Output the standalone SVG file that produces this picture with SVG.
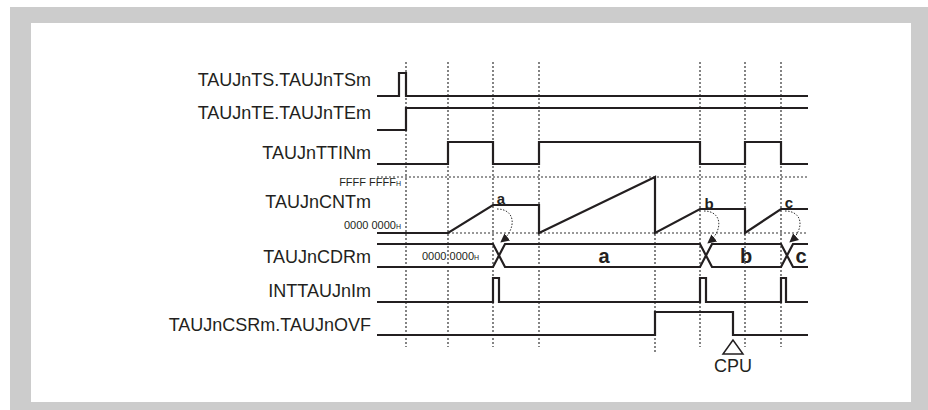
<svg xmlns="http://www.w3.org/2000/svg" width="928" height="410" viewBox="0 0 928 410">
<style>
.wave{fill:none;stroke:#231f20;stroke-width:2.2;stroke-linejoin:miter}
.guide{fill:none;stroke:#333;stroke-width:1.2;stroke-dasharray:2 2}
.arc{fill:none;stroke:#333;stroke-width:1;stroke-dasharray:1.5 1.5}
.lbl{font-family:"Liberation Sans",Arial,sans-serif;font-size:18px;fill:#231f20;text-anchor:end}
.sm{font-family:"Liberation Sans",Arial,sans-serif;font-size:11px;fill:#231f20}
.sub{font-size:7px}
.val{font-family:"Liberation Sans",Arial,sans-serif;font-weight:bold;fill:#231f20;text-anchor:middle}
</style>
<defs>
<marker id="ah" viewBox="0 0 10 10" refX="9" refY="5" markerWidth="9" markerHeight="9" markerUnits="userSpaceOnUse" orient="auto">
<path d="M0,0 L10,5 L0,10 Z" fill="#231f20"/>
</marker>
</defs>
<rect x="10" y="7" width="918" height="403" fill="#cccccc"/>
<rect x="31" y="23" width="880" height="379" fill="#ffffff"/>

<g id="guides">
<path class="guide" d="M406,62V347 M448,62V347 M493,62V347 M539,62V347 M700,62V347 M745,62V347 M781,62V347 M655,178V352"/>
<path class="guide" d="M377,177H808 M448,233H808"/>
</g>

<g id="sig-ts">
<text class="lbl" x="371" y="86">TAUJnTS.TAUJnTSm</text>
<path class="wave" d="M377,96H399V73H406V96H808"/>
</g>
<g id="sig-te">
<text class="lbl" x="371" y="119">TAUJnTE.TAUJnTEm</text>
<path class="wave" d="M377,130H406V108H808"/>
</g>
<g id="sig-ttin">
<text class="lbl" x="371" y="159">TAUJnTTINm</text>
<path class="wave" d="M377,164H448V142H493V164H539V142H700V164H745V142H781V164H808"/>
</g>
<g id="sig-cnt">
<text class="lbl" x="371" y="208">TAUJnCNTm</text>
<text class="sm" x="401" y="186" text-anchor="end">FFFF FFFF<tspan class="sub">H</tspan></text>
<text class="sm" x="401" y="229" text-anchor="end">0000 0000<tspan class="sub">H</tspan></text>
<path class="wave" d="M377,233H448L493,205H539V233L655,177V233L700,209H745V233L781,209H808"/>
<text class="val" x="501" y="204" font-size="15">a</text>
<text class="val" x="709" y="209" font-size="15">b</text>
<text class="val" x="789" y="208" font-size="15">c</text>
</g>
<g id="sig-cdr">
<text class="lbl" x="371" y="263">TAUJnCDRm</text>
<path class="wave" d="M377,244H493L505,267H700L712,244H781L793,267H808"/>
<path class="wave" d="M377,267H493L505,244H700L712,267H781L793,244H808"/>
<text class="sm" x="422" y="260">0000 0000<tspan class="sub">H</tspan></text>
<text class="val" x="604" y="263" font-size="20">a</text>
<text class="val" x="746" y="263" font-size="20">b</text>
<text class="val" x="801" y="263" font-size="20">c</text>
</g>
<g id="sig-int">
<text class="lbl" x="371" y="297">INTTAUJnIm</text>
<path class="wave" d="M377,302H493V278H499V302H700V278H706V302H781V278H786V302H808"/>
</g>
<g id="sig-ovf">
<text class="lbl" x="371" y="331">TAUJnCSRm.TAUJnOVF</text>
<path class="wave" d="M377,335H655V312H733V335H808"/>
</g>
<g id="cpu">
<polygon points="733,340 723,354 743,354" fill="#ffffff" stroke="#231f20" stroke-width="1.5"/>
<text x="733" y="372" font-family="Liberation Sans, Arial, sans-serif" font-size="18" fill="#231f20" text-anchor="middle">CPU</text>
</g>

<g id="connectors">
<path class="arc" d="M497,209C516,209 517,229 501,242" marker-end="url(#ah)"/>
<path class="arc" d="M704,211C722,211 724,230 708,243" marker-end="url(#ah)"/>
<path class="arc" d="M785,211C803,211 805,229 790,242" marker-end="url(#ah)"/>
</g>
</svg>
